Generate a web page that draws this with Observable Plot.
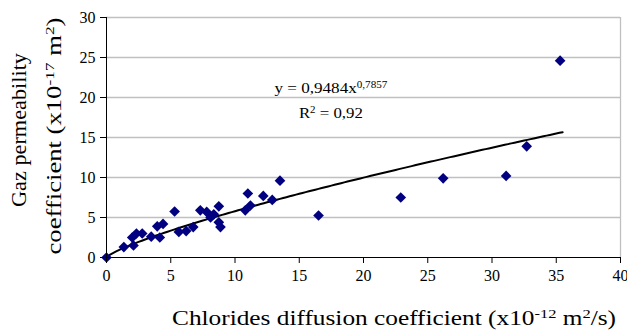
<!DOCTYPE html>
<html>
<head>
<meta charset="utf-8">
<script src="https://cdn.jsdelivr.net/npm/d3@7"></script>
<script src="https://cdn.jsdelivr.net/npm/@observablehq/plot@0.6"></script>
<style>
  html, body { margin: 0; padding: 0; background: #fff; }
  #chart svg { display: block; }
</style>
</head>
<body>
<div id="chart"></div>
<script>
// Data
const chlorides = [0, 1.35, 2.0, 2.1, 2.33, 2.78, 3.48, 3.95, 4.15, 4.4, 5.3, 5.63, 6.2, 6.75, 7.3, 7.8, 8.1, 8.35, 8.74, 8.74, 8.87, 10.8, 11.0, 11.2, 12.2, 12.9, 13.5, 16.5, 22.9, 26.2, 31.1, 32.7, 35.3];
const permeability = [0, 1.3, 2.5, 1.5, 3.0, 3.0, 2.6, 3.9, 2.5, 4.2, 5.75, 3.2, 3.3, 3.8, 5.9, 5.7, 5.0, 5.4, 6.4, 4.4, 3.8, 5.9, 8.0, 6.5, 7.7, 7.2, 9.6, 5.25, 7.5, 9.9, 10.2, 13.9, 24.6];
const xTicks = [0, 5, 10, 15, 20, 25, 30, 35, 40];
const yTicks = [0, 5, 10, 15, 20, 25, 30];
// Power trendline shown on the chart: y = 0,9484 x^0,7857
const trendCoef = 0.9484;
const trendExp = 0.7857;
const trendRange = [0, 35.5];

const points = chlorides.map((x, i) => ({x, y: permeability[i]}));
const trend = d3.range(trendRange[0], trendRange[1] + 0.001, 0.25).map(x => ({x, y: trendCoef * Math.pow(x, trendExp)}));

const FONT = "'Liberation Serif', 'Times New Roman', serif";

const chart = Plot.plot({
  width: 627,
  height: 333,
  marginLeft: 106,
  marginRight: 7,
  marginTop: 17,
  marginBottom: 76,
  style: {fontFamily: FONT, fontSize: "16px", color: "#000", background: "#fff"},
  x: {domain: [0, 40]},
  y: {domain: [0, 30]},
  marks: [
    Plot.gridY(yTicks.filter(v => v > 0), {stroke: "#c0c0c0", strokeOpacity: 1, strokeWidth: 1.3}),
    Plot.ruleX([40], {stroke: "#c0c0c0", strokeWidth: 1.3}),
    Plot.line(trend, {x: "x", y: "y", stroke: "#000", strokeWidth: 2}),
    Plot.dot(points, {x: "x", y: "y", symbol: "diamond2", r: 4.8, fill: "#000080", stroke: "none"}),
    Plot.ruleX([0], {stroke: "#000", strokeWidth: 1}),
    Plot.ruleY([0], {stroke: "#000", strokeWidth: 1}),
    Plot.axisX(xTicks, {tickSize: 6, tickPadding: 6, label: null, fontSize: 16, stroke: "#000"}),
    Plot.axisY(yTicks, {tickSize: 6, tickPadding: 5, label: null, fontSize: 16, stroke: "#000"})
  ]
});

document.getElementById("chart").appendChild(chart);

const svg = d3.select(chart);
const sx = chart.scale("x"), sy = chart.scale("y");

function richText(parent, parts, attrs) {
  const t = parent.append("text");
  for (const [k, v] of Object.entries(attrs)) t.attr(k, v);
  for (const p of parts) {
    const ts = t.append("tspan").text(p.text);
    if (p.sup) ts.attr("baseline-shift", "super").attr("font-size", p.size || "0.65em");
  }
  return t;
}

// Equation annotation
richText(svg, [{text: "y = 0,9484x"}, {text: "0,7857", sup: true}], {
  x: sx.apply(17.5), y: sy.apply(20.5), "text-anchor": "middle",
  "font-family": FONT, "font-size": 15, fill: "#000",
  textLength: 113, lengthAdjust: "spacingAndGlyphs"
});
richText(svg, [{text: "R"}, {text: "2", sup: true}, {text: " = 0,92"}], {
  x: sx.apply(17.5), y: sy.apply(17.4), "text-anchor": "middle",
  "font-family": FONT, "font-size": 15, fill: "#000",
  textLength: 64, lengthAdjust: "spacingAndGlyphs"
});

// X axis title
richText(svg, [{text: "Chlorides diffusion coefficient (x10"}, {text: "-12", sup: true}, {text: " m"}, {text: "2", sup: true}, {text: "/s)"}], {
  x: 394, y: 325, "text-anchor": "middle", "font-family": FONT, "font-size": 20, fill: "#000",
  textLength: 444, lengthAdjust: "spacingAndGlyphs"
});

// Y axis title (two lines, rotated)
richText(svg, [{text: "Gaz permeability"}], {
  transform: "translate(26,130) rotate(-90)", "text-anchor": "middle",
  "font-family": FONT, "font-size": 20, fill: "#000",
  textLength: 154, lengthAdjust: "spacingAndGlyphs"
});
richText(svg, [{text: "coefficient (x10"}, {text: "-17", sup: true}, {text: " m"}, {text: "2", sup: true}, {text: ")"}], {
  transform: "translate(61,136) rotate(-90)", "text-anchor": "middle",
  "font-family": FONT, "font-size": 20, fill: "#000",
  textLength: 237, lengthAdjust: "spacingAndGlyphs"
});
</script>
</body>
</html>
